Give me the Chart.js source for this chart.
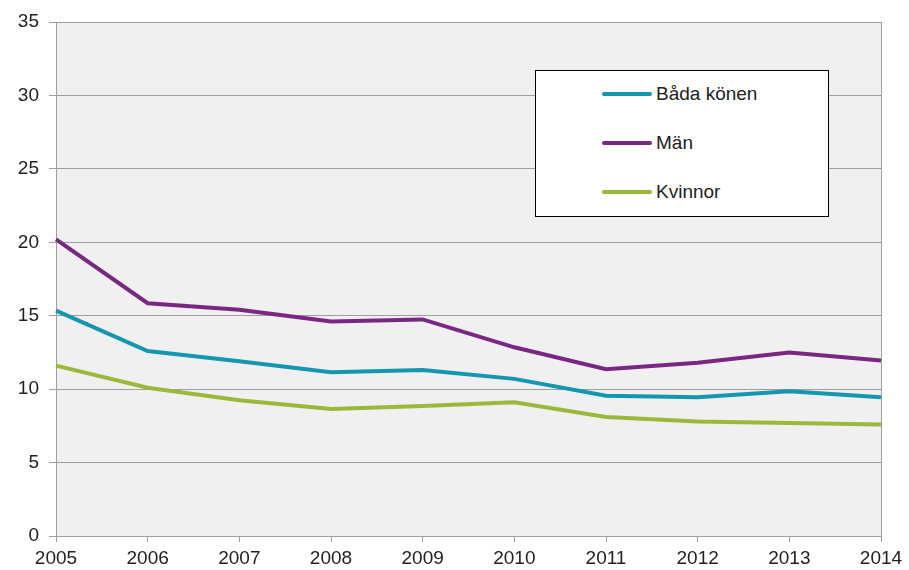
<!DOCTYPE html>
<html>
<head>
<meta charset="utf-8">
<script src="https://cdn.jsdelivr.net/npm/chart.js@4/dist/chart.umd.min.js"></script>
<style>
  body { margin: 0; background: #fff; }
  #wrap { position: relative; width: 909px; height: 570px; }
  #legend {
    position: absolute; left: 535px; top: 70px; width: 292px; height: 145px;
    background: #fff; border: 1px solid #000;
    font-family: "Liberation Sans", Arial, sans-serif; font-size: 19px; color: #222;
  }
  .item { position: absolute; left: 66px; height: 22px; display: flex; align-items: center; }
  .swatch { width: 50px; height: 4px; border-radius: 2px; margin-right: 4px; }
</style>
</head>
<body>
<div id="wrap">
  <canvas id="mainChart" width="909" height="570"></canvas>
  <div id="legend"></div>
</div>
<script>
// data
const years = ['2005', '2006', '2007', '2008', '2009', '2010', '2011', '2012', '2013', '2014'];
const seriesNames = ['Båda könen', 'Män', 'Kvinnor'];
const badaKonen = [15.35, 12.6, 11.9, 11.15, 11.3, 10.7, 9.55, 9.45, 9.85, 9.45];
const man = [20.2, 15.85, 15.4, 14.6, 14.75, 12.85, 11.35, 11.8, 12.5, 11.95];
const kvinnor = [11.6, 10.1, 9.25, 8.65, 8.85, 9.1, 8.1, 7.8, 7.7, 7.6];
const colors = ['#1496ae', '#782880', '#9cb83a'];

const gray = '#9e9e9e';
const fontFam = '"Liberation Sans", Arial, sans-serif';

// grey plot background
const plotBg = {
    id: 'plotBg',
    beforeDraw(chart) {
        const { ctx, chartArea: a } = chart;
        ctx.save();
        ctx.fillStyle = '#f0f0f0';
        ctx.fillRect(a.left, a.top, a.right - a.left, a.bottom - a.top);
        ctx.restore();
    }
};

const values = [badaKonen, man, kvinnor];

new Chart(document.getElementById('mainChart'), {
    type: 'line',
    data: {
        labels: years,
        datasets: seriesNames.map((name, i) => ({
            label: name,
            data: values[i],
            borderColor: colors[i],
            backgroundColor: colors[i],
            borderWidth: 4,
            pointRadius: 0,
            tension: 0,
            fill: false
        }))
    },
    options: {
        responsive: false,
        animation: false,
        layout: { padding: { top: 22, right: 28, bottom: 0, left: 0 } },
        plugins: { legend: { display: false }, tooltip: { enabled: false } },
        scales: {
            x: {
                grid: {
                    color: c => c.index === years.length - 1 ? gray : 'transparent',
                    tickColor: gray,
                    tickLength: 6,
                    lineWidth: 1
                },
                border: { color: gray, width: 1 },
                ticks: { color: '#222', font: { family: fontFam, size: 19 }, padding: 5, maxRotation: 0, autoSkip: false },
                afterFit(s) { s.height = 34; }
            },
            y: {
                min: 0, max: 35,
                grid: { color: gray, tickColor: gray, tickLength: 7, lineWidth: 1 },
                border: { color: gray, width: 1 },
                ticks: { stepSize: 5, color: '#222', font: { family: fontFam, size: 19 }, padding: 10 },
                afterFit(s) { s.width = 56; }
            }
        }
    },
    plugins: [plotBg]
});

// legend box
const legendEl = document.getElementById('legend');
const centers = [23, 72, 121];
seriesNames.forEach((name, i) => {
    const item = document.createElement('div');
    item.className = 'item';
    item.style.top = (centers[i] - 11) + 'px';
    item.innerHTML = '<span class="swatch" style="background:' + colors[i] + '"></span><span>' + name + '</span>';
    legendEl.appendChild(item);
});
</script>
</body>
</html>
